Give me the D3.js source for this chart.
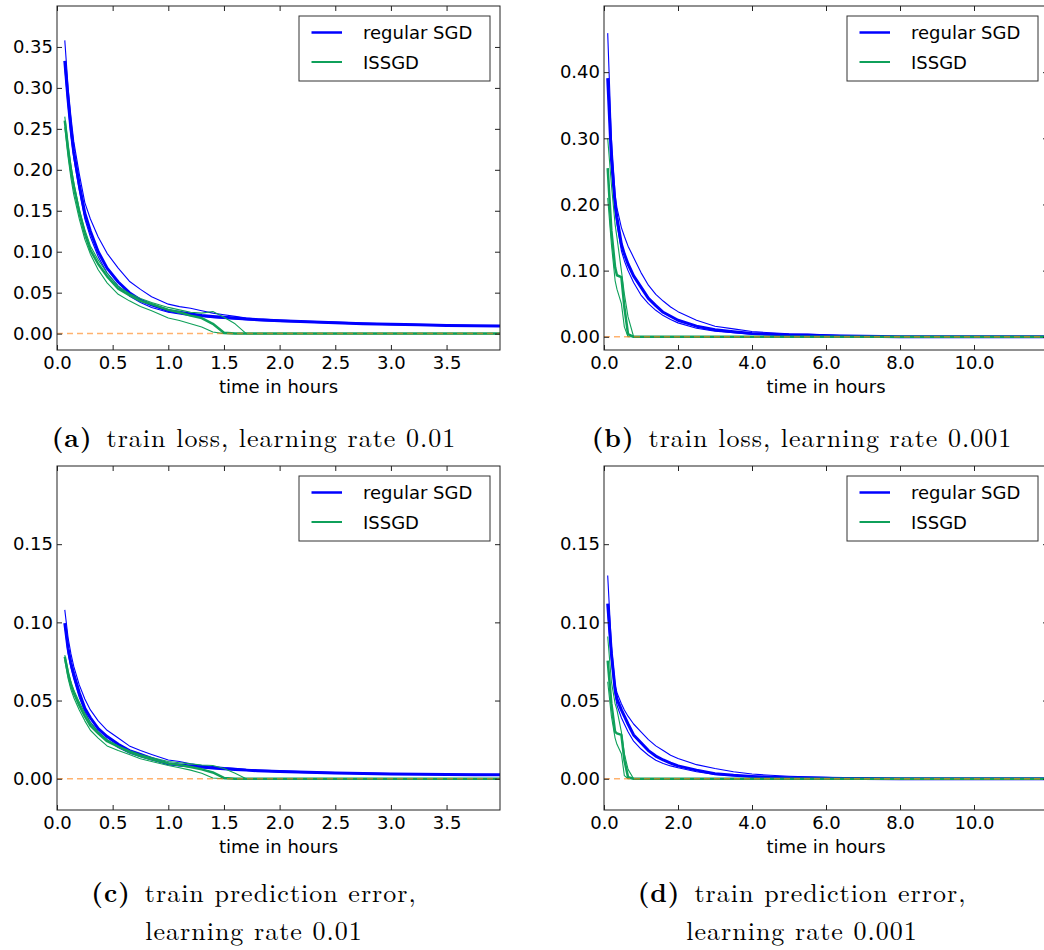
<!DOCTYPE html>
<html>
<head>
<meta charset="utf-8">
<script src="https://cdn.jsdelivr.net/npm/d3@7"></script>
<style>
  body { margin: 0; background: #fff; }
  svg text { font-family: "DejaVu Sans", sans-serif; }
  .cap { font-family: "Latin Modern Roman", "CMU Serif", "Liberation Serif", serif; font-size: 26px; letter-spacing: 1px; }
</style>
</head>
<body>
<svg id="fig" width="1044" height="950"></svg>
<script>
// time axes (hours)
var timeLr01 = [0.07, 0.1, 0.125, 0.15, 0.2, 0.25, 0.3, 0.37, 0.45, 0.55, 0.65, 0.75, 0.85, 1.0, 1.1, 1.2, 1.3, 1.4, 1.5, 1.6, 1.7, 1.8, 2.0, 2.25, 2.5, 2.75, 3.0, 3.25, 3.5, 3.75, 3.98];
var timeLr001 = [0.1, 0.2, 0.3, 0.35, 0.47, 0.55, 0.65, 0.8, 1.0, 1.2, 1.4, 1.6, 1.8, 2.0, 2.5, 3.0, 3.5, 4.0, 4.5, 5.0, 5.5, 6.0, 6.5, 7.0, 8.0, 9.0, 10.0, 11.0, 11.98];

// (a) train loss, lr 0.01
var sgdMeanA  = [0.333, 0.285, 0.250, 0.222, 0.182, 0.147, 0.125, 0.100, 0.080, 0.063, 0.050, 0.041, 0.035, 0.028, 0.026, 0.024, 0.022, 0.021, 0.020, 0.019, 0.018, 0.017, 0.0158, 0.0145, 0.0133, 0.0122, 0.0113, 0.0107, 0.0100, 0.0095, 0.0092];
var sgdRun1A  = [0.358, 0.300, 0.265, 0.235, 0.195, 0.160, 0.140, 0.118, 0.098, 0.080, 0.064, 0.054, 0.045, 0.036, 0.033, 0.031, 0.028, 0.025, 0.023, 0.021, 0.019, 0.018, 0.0165, 0.015, 0.014, 0.0128, 0.0118, 0.011, 0.0104, 0.0098, 0.0094];
var sgdRun2A  = [0.325, 0.278, 0.243, 0.215, 0.175, 0.140, 0.118, 0.094, 0.074, 0.058, 0.046, 0.038, 0.032, 0.026, 0.024, 0.022, 0.021, 0.0195, 0.0185, 0.0175, 0.0168, 0.016, 0.015, 0.014, 0.0128, 0.0118, 0.011, 0.0104, 0.0098, 0.0092, 0.0088];
var issgdMeanA = [0.260, 0.225, 0.200, 0.180, 0.148, 0.122, 0.102, 0.085, 0.070, 0.055, 0.047, 0.040, 0.036, 0.029, 0.026, 0.022, 0.019, 0.012, 0.001, 0, 0, 0, 0, 0, 0, 0, 0, 0, 0, 0, 0];
var issgdRun1A = [0.252, 0.215, 0.190, 0.170, 0.140, 0.115, 0.097, 0.078, 0.062, 0.048, 0.040, 0.033, 0.028, 0.019, 0.016, 0.012, 0.008, 0.002, 0, 0, 0, 0, 0, 0, 0, 0, 0, 0, 0, 0, 0];
var issgdRun2A = [0.265, 0.230, 0.205, 0.185, 0.152, 0.127, 0.107, 0.090, 0.074, 0.058, 0.049, 0.043, 0.038, 0.032, 0.029, 0.026, 0.025, 0.027, 0.020, 0.012, 0.0, 0, 0, 0, 0, 0, 0, 0, 0, 0, 0];

// (b) train loss, lr 0.001
var sgdMeanB  = [0.391, 0.270, 0.200, 0.180, 0.140, 0.125, 0.110, 0.092, 0.075, 0.058, 0.047, 0.037, 0.031, 0.025, 0.016, 0.0105, 0.0075, 0.005, 0.0037, 0.0028, 0.0022, 0.0016, 0.001, 0.0006, 0.0002, 0, 0, 0, 0];
var sgdRun1B  = [0.459, 0.300, 0.215, 0.195, 0.165, 0.152, 0.137, 0.120, 0.097, 0.078, 0.064, 0.054, 0.045, 0.038, 0.025, 0.016, 0.012, 0.008, 0.006, 0.0045, 0.004, 0.003, 0.0015, 0.0008, 0.0003, 0, 0, 0, 0];
var sgdRun2B  = [0.385, 0.260, 0.190, 0.170, 0.130, 0.115, 0.100, 0.082, 0.063, 0.050, 0.040, 0.032, 0.026, 0.021, 0.013, 0.0085, 0.006, 0.004, 0.003, 0.0022, 0.0016, 0.0011, 0.0007, 0.0004, 0.0001, 0, 0, 0, 0];
var issgdMeanB = [0.255, 0.160, 0.105, 0.093, 0.090, 0.045, 0.004, 0, 0, 0, 0, 0, 0, 0, 0, 0, 0, 0, 0, 0, 0, 0, 0, 0, 0, 0, 0, 0, 0];
var issgdRun1B = [0.300, 0.230, 0.170, 0.150, 0.100, 0.065, 0.030, 0, 0, 0, 0, 0, 0, 0, 0, 0, 0, 0, 0, 0, 0, 0, 0, 0, 0, 0, 0, 0, 0];
var issgdRun2B = [0.210, 0.140, 0.085, 0.072, 0.050, 0.015, 0, 0, 0, 0, 0, 0, 0, 0, 0, 0, 0, 0, 0, 0, 0, 0, 0, 0, 0, 0, 0, 0, 0];

// (c) train prediction error, lr 0.01
var sgdMeanC  = [0.0995, 0.083, 0.074, 0.067, 0.055, 0.045, 0.039, 0.032, 0.027, 0.022, 0.018, 0.0155, 0.013, 0.0095, 0.0088, 0.0081, 0.0075, 0.0069, 0.0064, 0.0059, 0.0055, 0.0051, 0.0046, 0.0041, 0.0037, 0.0034, 0.0031, 0.0029, 0.0027, 0.0026, 0.0025];
var sgdRun1C  = [0.108, 0.090, 0.080, 0.072, 0.060, 0.051, 0.044, 0.037, 0.031, 0.026, 0.021, 0.018, 0.0155, 0.012, 0.011, 0.0095, 0.0085, 0.0078, 0.0071, 0.0066, 0.006, 0.0056, 0.005, 0.0044, 0.004, 0.0036, 0.0033, 0.0031, 0.0029, 0.0028, 0.0027];
var sgdRun2C  = [0.098, 0.080, 0.071, 0.064, 0.052, 0.043, 0.036, 0.030, 0.025, 0.020, 0.0165, 0.014, 0.012, 0.0092, 0.0084, 0.0077, 0.0071, 0.0066, 0.0061, 0.0057, 0.0053, 0.005, 0.0044, 0.0039, 0.0035, 0.0032, 0.003, 0.0028, 0.0026, 0.0025, 0.0024];
var issgdMeanC = [0.078, 0.067, 0.060, 0.055, 0.047, 0.040, 0.034, 0.029, 0.024, 0.0205, 0.017, 0.0145, 0.0125, 0.0098, 0.0088, 0.0075, 0.006, 0.004, 0.0005, 0, 0, 0, 0, 0, 0, 0, 0, 0, 0, 0, 0];
var issgdRun1C = [0.076, 0.064, 0.057, 0.052, 0.044, 0.037, 0.031, 0.026, 0.021, 0.018, 0.0155, 0.0128, 0.011, 0.0085, 0.007, 0.0055, 0.0035, 0.0005, 0, 0, 0, 0, 0, 0, 0, 0, 0, 0, 0, 0, 0];
var issgdRun2C = [0.079, 0.069, 0.062, 0.057, 0.049, 0.042, 0.036, 0.030, 0.025, 0.021, 0.018, 0.0155, 0.0135, 0.011, 0.0102, 0.0095, 0.0088, 0.0085, 0.0065, 0.0035, 0, 0, 0, 0, 0, 0, 0, 0, 0, 0, 0];

// (d) train prediction error, lr 0.001
var sgdMeanD  = [0.112, 0.080, 0.057, 0.051, 0.044, 0.040, 0.035, 0.028, 0.023, 0.018, 0.0145, 0.012, 0.010, 0.0082, 0.0055, 0.0032, 0.0022, 0.0015, 0.001, 0.0007, 0.0005, 0.0003, 0.0002, 0.0001, 0, 0, 0, 0, 0];
var sgdRun1D  = [0.130, 0.085, 0.060, 0.055, 0.048, 0.044, 0.040, 0.035, 0.030, 0.025, 0.021, 0.018, 0.015, 0.013, 0.009, 0.0065, 0.0045, 0.003, 0.0022, 0.0016, 0.0012, 0.0009, 0.0005, 0.0003, 0.0001, 0, 0, 0, 0];
var sgdRun2D  = [0.108, 0.076, 0.054, 0.047, 0.039, 0.035, 0.030, 0.024, 0.019, 0.015, 0.0118, 0.0098, 0.0082, 0.007, 0.0045, 0.0028, 0.0019, 0.0013, 0.0009, 0.0006, 0.0004, 0.0002, 0.0001, 0, 0, 0, 0, 0, 0];
var issgdMeanD = [0.0755, 0.048, 0.030, 0.029, 0.028, 0.012, 0.001, 0, 0, 0, 0, 0, 0, 0, 0, 0, 0, 0, 0, 0, 0, 0, 0, 0, 0, 0, 0, 0, 0];
var issgdRun1D = [0.091, 0.062, 0.048, 0.044, 0.030, 0.016, 0.006, 0, 0, 0, 0, 0, 0, 0, 0, 0, 0, 0, 0, 0, 0, 0, 0, 0, 0, 0, 0, 0, 0];
var issgdRun2D = [0.062, 0.040, 0.026, 0.022, 0.016, 0.002, 0, 0, 0, 0, 0, 0, 0, 0, 0, 0, 0, 0, 0, 0, 0, 0, 0, 0, 0, 0, 0, 0, 0];

// ticks
var xTicksLr01 = [0, 0.5, 1.0, 1.5, 2.0, 2.5, 3.0, 3.5];
var xTicksLr001 = [0, 2, 4, 6, 8, 10];
var yTicksLossA = [0, 0.05, 0.10, 0.15, 0.20, 0.25, 0.30, 0.35];
var yTicksLossB = [0, 0.10, 0.20, 0.30, 0.40];
var yTicksErr = [0, 0.05, 0.10, 0.15];

var legendLabels = ['regular SGD', 'ISSGD'];
var captions = [
  ['(a)', ['train loss, learning rate 0.01']],
  ['(b)', ['train loss, learning rate 0.001']],
  ['(c)', ['train prediction error,', 'learning rate 0.01']],
  ['(d)', ['train prediction error,', 'learning rate 0.001']]
];

var BLUE = '#0000ff', GREEN = '#0fa05a', ORANGE = '#ff7f0e';

var panels = [
  { left: 57,  top: 6,   w: 443, h: 344, t: timeLr01,  xMax: 3.98, yMax: 0.40, xTicks: xTicksLr01,  yTicks: yTicksLossA,
    sgd: [sgdRun1A, sgdRun2A, sgdMeanA], issgd: [issgdRun1A, issgdRun2A, issgdMeanA] },
  { left: 604, top: 6,   w: 444, h: 344, t: timeLr001, xMax: 12,   yMax: 0.50, xTicks: xTicksLr001, yTicks: yTicksLossB,
    sgd: [sgdRun1B, sgdRun2B, sgdMeanB], issgd: [issgdRun1B, issgdRun2B, issgdMeanB] },
  { left: 57,  top: 466, w: 443, h: 344, t: timeLr01,  xMax: 3.98, yMax: 0.20, xTicks: xTicksLr01,  yTicks: yTicksErr,
    sgd: [sgdRun1C, sgdRun2C, sgdMeanC], issgd: [issgdRun1C, issgdRun2C, issgdMeanC] },
  { left: 604, top: 466, w: 444, h: 344, t: timeLr001, xMax: 12,   yMax: 0.20, xTicks: xTicksLr001, yTicks: yTicksErr,
    sgd: [sgdRun1D, sgdRun2D, sgdMeanD], issgd: [issgdRun1D, issgdRun2D, issgdMeanD] }
];

var svg = d3.select('#fig');

function drawPanel(p, i) {
  var g = svg.append('g').attr('transform', 'translate(' + p.left + ',' + p.top + ')');
  var x = d3.scaleLinear().domain([0, p.xMax]).range([0, p.w]);
  var y = d3.scaleLinear().domain([-0.02, p.yMax]).range([p.h, 0]);

  g.append('clipPath').attr('id', 'clip' + i)
    .append('rect').attr('width', p.w).attr('height', p.h);

  var line = d3.line().x(function(d) { return x(d[0]); }).y(function(d) { return y(d[1]); });
  var plot = g.append('g').attr('clip-path', 'url(#clip' + i + ')');

  p.sgd.forEach(function(vals, k) {
    plot.append('path').datum(d3.zip(p.t, vals))
      .attr('d', line).attr('fill', 'none').attr('stroke', BLUE)
      .attr('stroke-width', k === 2 ? 3 : 1.1).attr('stroke-linejoin', 'round');
  });
  p.issgd.forEach(function(vals, k) {
    plot.append('path').datum(d3.zip(p.t, vals))
      .attr('d', line).attr('fill', 'none').attr('stroke', GREEN)
      .attr('stroke-width', k === 2 ? 2.5 : 1.1).attr('stroke-linejoin', 'round');
  });
  plot.append('line')
    .attr('x1', x(0)).attr('x2', x(p.xMax)).attr('y1', y(0)).attr('y2', y(0))
    .attr('stroke', ORANGE).attr('stroke-opacity', 0.6).attr('stroke-width', 1.5)
    .attr('stroke-dasharray', '6,4');

  // axes, ticks pointing inward on all sides
  var bottom = g.append('g').attr('transform', 'translate(0,' + p.h + ')')
    .call(d3.axisBottom(x).tickValues(p.xTicks).tickSize(-5).tickSizeOuter(0).tickPadding(6).tickFormat(d3.format('.1f')));
  var top = g.append('g')
    .call(d3.axisTop(x).tickValues(p.xTicks).tickSize(-5).tickSizeOuter(0).tickFormat(''));
  var left = g.append('g')
    .call(d3.axisLeft(y).tickValues(p.yTicks).tickSize(-5).tickSizeOuter(0).tickPadding(4).tickFormat(d3.format('.2f')));
  var right = g.append('g').attr('transform', 'translate(' + p.w + ',0)')
    .call(d3.axisRight(y).tickValues(p.yTicks).tickSize(-5).tickSizeOuter(0).tickFormat(''));
  [bottom, top, left, right].forEach(function(a) {
    a.select('.domain').remove();
    a.selectAll('.tick line').attr('stroke', '#222');
    a.selectAll('.tick text').attr('font-size', 18).attr('fill', '#000')
      .style('font-family', '"DejaVu Sans", sans-serif');
  });

  g.append('rect').attr('width', p.w).attr('height', p.h)
    .attr('fill', 'none').attr('stroke', '#222').attr('stroke-width', 1);

  g.append('text').attr('x', p.w / 2).attr('y', p.h + 43)
    .attr('text-anchor', 'middle').attr('font-size', 18).text('time in hours');

  // legend
  var lg = g.append('g').attr('transform', 'translate(' + (p.w - 10 - 191) + ',10)');
  lg.append('rect').attr('width', 191).attr('height', 65)
    .attr('fill', '#fff').attr('stroke', '#333').attr('stroke-width', 1);
  [BLUE, GREEN].forEach(function(col, k) {
    var ly = 16.5 + k * 29.5;
    lg.append('line').attr('x1', 12.5).attr('x2', 43).attr('y1', ly).attr('y2', ly)
      .attr('stroke', col).attr('stroke-width', k === 0 ? 2.5 : 2);
    lg.append('text').attr('x', 64).attr('y', ly + 6.8)
      .attr('font-size', 18).text(legendLabels[k]);
  });
}

panels.forEach(drawPanel);

// captions
var capX = [254, 802];
var capY = [447, 902];
captions.forEach(function(c, i) {
  var cx = capX[i % 2], cy = capY[Math.floor(i / 2)];
  c[1].forEach(function(lineText, j) {
    var t = svg.append('text').attr('class', 'cap')
      .attr('x', cx).attr('y', cy + j * 38).attr('text-anchor', 'middle');
    if (j === 0) {
      t.append('tspan').attr('font-weight', 'bold').text(c[0]);
      t.append('tspan').text('\u2002' + lineText);
    } else {
      t.text(lineText);
    }
  });
});
</script>
</body>
</html>
